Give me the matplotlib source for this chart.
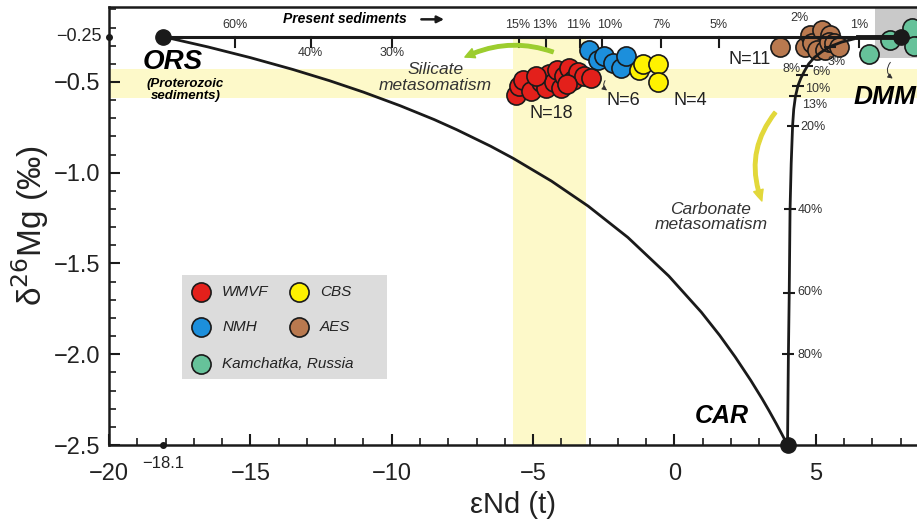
import numpy as np
import matplotlib
matplotlib.use('Agg')
import matplotlib.pyplot as plt
from matplotlib.patches import Rectangle, FancyArrowPatch
from matplotlib.ticker import FixedLocator, MultipleLocator, FixedFormatter

plt.rcParams['font.family'] = ['Liberation Sans', 'DejaVu Sans']

# end members (eNd, d26Mg)
ors = (-18.1, -0.25)
dmm = (8.0, -0.25)
car = (4.0, -2.5)

# ORS - CAR mixing curve
ors_car_x = [-18.1, -16.5, -15.0, -13.5, -12.2, -11.0, -9.7, -8.5, -7.7, -6.5, -5.7, -4.35,
             -3.05, -1.65, -0.2, 0.95, 1.6, 2.15, 2.7, 3.1, 3.35, 3.6, 3.8, 4.0]
ors_car_y = [-0.25, -0.307, -0.366, -0.431, -0.493, -0.556, -0.631, -0.707, -0.763, -0.854, -0.921, -1.046,
             -1.184, -1.356, -1.569, -1.768, -1.896, -2.015, -2.144, -2.245, -2.312, -2.382, -2.44, -2.5]

# DMM - CAR mixing curve
dmm_car_x = [8.0, 7.2, 6.52, 5.92, 5.5, 5.2, 4.95, 4.75, 4.6, 4.47, 4.37, 4.28, 4.22, 4.18, 4.13, 4.09, 4.06, 4.03, 4.0]
dmm_car_y = [-0.25, -0.251, -0.256, -0.28, -0.305, -0.335, -0.365, -0.40, -0.44, -0.48, -0.52, -0.58, -0.65, -0.74, -0.95, -1.2, -1.67, -2.02, -2.5]

# present sediments line ticks
sed_pct = ['60%', '40%', '30%', '15%', '13%', '11%', '10%', '7%', '5%', '2%', '1%']
sed_x = [-15.53, -12.87, -10.0, -5.5, -4.54, -3.33, -2.55, -0.46, 1.56, 4.43, 6.52]
sed_lx = [-15.53, -12.87, -10.0, -5.55, -4.6, -3.4, -2.3, -0.46, 1.56, 4.43, 6.52]
sed_ly = [-0.186, -0.34, -0.34, -0.186, -0.186, -0.186, -0.186, -0.186, -0.186, -0.15, -0.186]

# carbonate fraction ticks on DMM-CAR curve
carb_pct = ['3%', '6%', '8%', '10%', '13%', '20%', '40%', '60%', '80%']
carb_x = [5.5, 4.68, 4.5, 4.37, 4.28, 4.18, 4.09, 4.06, 4.03]
carb_y = [-0.305, -0.41, -0.46, -0.52, -0.58, -0.74, -1.2, -1.66, -2.0]
carb_lx = [5.4, 4.87, 4.45, 4.62, 4.52, 4.45, 4.35, 4.35, 4.35]
carb_ly = [-0.39, -0.445, -0.43, -0.539, -0.627, -0.748, -1.205, -1.657, -2.004]

# samples
wmvf_x = [-5.60, -5.50, -5.35, -5.07, -4.72, -4.54, -4.43, -4.26, -4.15, -4.01, -3.90, -3.72, -3.58, -3.40, -3.19, -2.94, -4.89, -3.79]
wmvf_y = [-0.572, -0.522, -0.489, -0.550, -0.500, -0.533, -0.456, -0.500, -0.433, -0.533, -0.467, -0.422, -0.489, -0.444, -0.467, -0.478, -0.467, -0.511]
nmh_x = [-3.01, -2.70, -2.48, -2.16, -1.88, -1.70]
nmh_y = [-0.322, -0.378, -0.356, -0.394, -0.422, -0.356]
cbs_x = [-1.24, -1.10, -0.57, -0.57]
cbs_y = [-0.433, -0.400, -0.400, -0.500]
aes_x = [3.72, 4.61, 4.79, 4.86, 5.04, 5.21, 5.32, 5.50, 5.46, 5.64, 5.82]
aes_y = [-0.306, -0.306, -0.239, -0.283, -0.322, -0.211, -0.322, -0.239, -0.278, -0.283, -0.306]
kam_x = [6.88, 7.62, 8.40, 8.48]
kam_y = [-0.344, -0.267, -0.200, -0.300]

groups = ['WMVF', 'NMH', 'CBS', 'AES', 'Kamchatka, Russia']
colors = ['#e3201b', '#1c8fdc', '#fff200', '#b9794f', '#66c29a']
xs = [wmvf_x, nmh_x, cbs_x, aes_x, kam_x]
ys = [wmvf_y, nmh_y, cbs_y, aes_y, kam_y]

# shaded ranges
mantle_band = (-0.59, -0.43)
wmvf_band = (-5.71, -3.12)
dmm_box = (7.09, -0.37)

fig = plt.figure(figsize=(9.17, 5.2), dpi=100)
ax = fig.add_axes([109 / 917, 75 / 520, 808 / 917, 438 / 520])
ax.set_xlim(-20, 8.58)
ax.set_ylim(-2.5, -0.087)

ax.axhspan(mantle_band[0], mantle_band[1], color='#fdf9c9', lw=0, zorder=0)
ax.add_patch(Rectangle((wmvf_band[0], -2.5), wmvf_band[1] - wmvf_band[0], 2.25,
                       color='#fdf9c9', lw=0, zorder=0))
ax.add_patch(Rectangle(dmm_box, 3, 1, color='#c9c9c9', lw=0, zorder=0.5))

for x, y, c in zip(xs, ys, colors):
    ax.scatter(x, y, s=190, c=c, edgecolors='#1a1a1a', linewidths=1.2, zorder=2)

ax.plot(ors_car_x, ors_car_y, color='#1a1a1a', lw=2, zorder=3)
ax.plot(dmm_car_x, dmm_car_y, color='#1a1a1a', lw=2, zorder=3)
ax.plot([ors[0], dmm[0]], [ors[1], dmm[1]], color='#1a1a1a', lw=2.2, zorder=3)
ax.plot([6.5, dmm[0]], [dmm[1], dmm[1]], color='#1a1a1a', lw=3.5, zorder=3)
for p in (ors, dmm, car):
    ax.plot(*p, 'o', color='#1a1a1a', ms=11, zorder=4, clip_on=False)

# sediment fraction ticks
for lab, x, lx, ly in zip(sed_pct, sed_x, sed_lx, sed_ly):
    if lab != '2%':
        ax.plot([x, x], [-0.25, -0.305], color='#1a1a1a', lw=1.5, zorder=3)
    ax.text(lx, ly, lab, ha='center', va='center', fontsize=9, color='#333333')

# carbonate fraction ticks
ax.plot(carb_x, carb_y, '_', color='#1a1a1a', ms=9, mew=1.5, zorder=3)
for lab, lx, ly in zip(carb_pct, carb_lx, carb_ly):
    ax.text(lx, ly, lab, ha='right' if lab == '8%' else 'left', va='center',
            fontsize=9, color='#333333', zorder=5)

# labels
ax.text(-17.74, -0.39, 'ORS', fontsize=20, fontweight='bold', style='italic', ha='center', va='center')
ax.text(-17.3, -0.545, '(Proterozoic\nsediments)', fontsize=9.5, fontweight='bold', style='italic',
        ha='center', va='center', linespacing=1.05)
ax.text(7.45, -0.585, 'DMM', fontsize=19, fontweight='bold', style='italic', ha='center', va='center')
ax.text(1.68, -2.34, 'CAR', fontsize=18, fontweight='bold', style='italic', ha='center', va='center')
ax.text(-11.65, -0.155, 'Present sediments', fontsize=10, fontweight='bold', style='italic',
        ha='center', va='center')
ax.annotate('', xy=(-8.05, -0.155), xytext=(-9.05, -0.155),
            arrowprops=dict(arrowstyle='-|>', color='#1a1a1a', lw=1.8, mutation_scale=10))
ax.text(-8.45, -0.475, 'Silicate\nmetasomatism', fontsize=12.5, style='italic', ha='center',
        va='center', color='#333333', linespacing=1.05)
ax.text(1.29, -1.244, 'Carbonate\nmetasomatism', fontsize=12.5, style='italic', ha='center',
        va='center', color='#333333', linespacing=1.05)
ax.text(-4.36, -0.672, 'N=18', fontsize=13, ha='center', va='center', color='#222222')
ax.text(-1.8, -0.6, 'N=6', fontsize=13, ha='center', va='center', color='#222222')
ax.text(0.55, -0.6, 'N=4', fontsize=13, ha='center', va='center', color='#222222')
ax.text(2.65, -0.375, 'N=11', fontsize=13, ha='center', va='center', color='#222222')

# metasomatism arrows
ax.add_patch(FancyArrowPatch((-4.2, -0.34), (-7.5, -0.37), connectionstyle='arc3,rad=0.22',
                             arrowstyle='simple,head_width=7,head_length=7,tail_width=2.5',
                             color='#9ccd2e', zorder=4))
ax.add_patch(FancyArrowPatch((3.63, -0.656), (3.13, -1.17), connectionstyle='arc3,rad=0.3',
                             arrowstyle='simple,head_width=7,head_length=8,tail_width=2.5',
                             color='#e2d83a', zorder=4))
ax.annotate('', xy=(-2.3, -0.555), xytext=(-2.4, -0.48),
            arrowprops=dict(arrowstyle='-|>', color='#333333', lw=0.7, mutation_scale=7,
                            connectionstyle='arc3,rad=0.6'))
ax.annotate('', xy=(7.8, -0.49), xytext=(7.7, -0.38),
            arrowprops=dict(arrowstyle='-|>', color='#333333', lw=0.7, mutation_scale=7,
                            connectionstyle='arc3,rad=0.6'))

# legend
ax.add_patch(Rectangle((-17.42, -2.139), 7.25, 0.578, color='#dcdcdc', lw=0, zorder=1))
leg_x = [-16.75, -16.75, -13.28, -13.28, -16.75]
leg_y = [-1.656, -1.85, -1.656, -1.85, -2.056]
for g, c, lx, ly in zip(groups, colors, leg_x, leg_y):
    ax.scatter([lx], [ly], s=190, c=c, edgecolors='#1a1a1a', linewidths=1.2, zorder=2)
    ax.text(lx + 0.75, ly, g, fontsize=11, style='italic', va='center', color='#222222')

# axes
for s in ['top', 'left', 'bottom']:
    ax.spines[s].set_linewidth(1.8)
    ax.spines[s].set_color('#1a1a1a')
ax.spines['right'].set_visible(False)

ax.xaxis.set_major_locator(FixedLocator([-20, -15, -10, -5, 0, 5]))
ax.xaxis.set_major_formatter(FixedFormatter(['\u221220', '\u221215', '\u221210', '\u22125', '0', '5']))
ax.xaxis.set_minor_locator(MultipleLocator(1))
ax.yaxis.set_major_locator(FixedLocator([-2.5, -2.0, -1.5, -1.0, -0.5]))
ax.yaxis.set_major_formatter(FixedFormatter(['\u22122.5', '\u22122.0', '\u22121.5', '\u22121.0', '\u22120.5']))
ax.yaxis.set_minor_locator(MultipleLocator(0.1))
ax.tick_params(which='major', direction='in', length=8, width=1.5, labelsize=17, color='#1a1a1a',
               labelcolor='#222222')
ax.tick_params(which='minor', direction='in', length=5, width=1.2, color='#1a1a1a')
ax.tick_params(axis='x', pad=13)
ax.tick_params(axis='y', pad=6)

ax.plot(-20, -0.25, 'o', color='#1a1a1a', ms=4, clip_on=False, zorder=5)
ax.text(-20.25, -0.25, '\u22120.25', fontsize=13, ha='right', va='center', color='#222222')
ax.plot(-18.1, -2.5, 'o', color='#1a1a1a', ms=4, clip_on=False, zorder=5)
ax.text(-18.1, -2.6, '\u221218.1', fontsize=12, ha='center', va='center', color='#222222')

ax.set_xlabel('\u03b5Nd (t)', fontsize=21, labelpad=4, color='#222222')
ax.set_ylabel('\u03b4$^{26}$Mg (\u2030)', fontsize=24, labelpad=2, color='#222222')

fig.savefig('out.png', dpi=100)
